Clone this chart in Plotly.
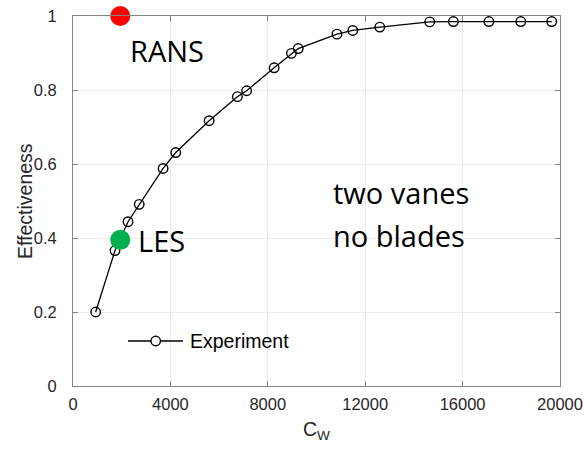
import plotly.graph_objects as go

# Measured effectiveness versus coolant flow parameter C_W
cw_exp = [930, 1725, 2260, 2720, 3700, 4220, 5590, 6750, 7130, 8260,
          8970, 9250, 10840, 11490, 12600, 14650, 15620, 17080, 18390, 19660]
eff_exp = [0.200, 0.366, 0.444, 0.491, 0.588, 0.631, 0.717, 0.782, 0.798, 0.860,
           0.899, 0.912, 0.951, 0.961, 0.970, 0.984, 0.985, 0.985, 0.985, 0.985]

# Simulation results at a single operating point
cw_rans, eff_rans = [1940], [1.0]
cw_les, eff_les = [1940], [0.395]

x_ticks = [0, 4000, 8000, 12000, 16000, 20000]
y_ticks = [0, 0.2, 0.4, 0.6, 0.8, 1.0]
y_tick_text = ["0", "0.2", "0.4", "0.6", "0.8", "1"]

sans = "Liberation Sans, Arial, sans-serif"
tick_font = dict(family=sans, size=16.5, color="#262626")
title_font = dict(family=sans, size=19.5, color="#262626")
big_font = dict(family="Open Sans, sans-serif", size=29, color="#000000")

fig = go.Figure()

fig.add_trace(go.Scatter(
    x=cw_exp, y=eff_exp, mode="lines+markers", name="Experiment", showlegend=False,
    line=dict(color="#000000", width=1.3),
    marker=dict(symbol="circle-open", size=9.5, color="#000000", line=dict(width=1.4)),
    cliponaxis=False,
))
fig.add_trace(go.Scatter(
    x=cw_rans, y=eff_rans, mode="markers", name="RANS", showlegend=False,
    marker=dict(size=20, color="#ff0000"), cliponaxis=False,
))
fig.add_trace(go.Scatter(
    x=cw_les, y=eff_les, mode="markers", name="LES", showlegend=False,
    marker=dict(size=20, color="#00b050"), cliponaxis=False,
))

annotations = [
    dict(x=2340, y=0.907, text="RANS", xanchor="left", yanchor="middle"),
    dict(x=2670, y=0.393, text="LES", xanchor="left", yanchor="middle"),
    dict(x=10680, y=0.523, text="two vanes", xanchor="left", yanchor="middle"),
    dict(x=10680, y=0.407, text="no blades", xanchor="left", yanchor="middle"),
]
for a in annotations:
    a.update(xref="x", yref="y", showarrow=False, font=big_font, xshift=-2)

# Legend entry for the experiment series, drawn with a long sample line
leg_y = 0.1216
leg_x0, leg_x1, leg_xm = 0.1129, 0.2259, 0.1698
shapes = [
    dict(type="line", xref="x domain", yref="y domain",
         x0=leg_x0, x1=leg_x1, y0=leg_y, y1=leg_y,
         line=dict(color="#000000", width=1.3)),
    dict(type="circle", xref="x domain", yref="y domain",
         xsizemode="pixel", ysizemode="pixel",
         xanchor=leg_xm, yanchor=leg_y, x0=-4.75, x1=4.75, y0=-4.75, y1=4.75,
         line=dict(color="#000000", width=1.4), fillcolor="#ffffff"),
]
annotations.append(dict(
    xref="x domain", yref="y domain", x=0.236, y=leg_y,
    text="Experiment", showarrow=False, xanchor="left", yanchor="middle",
    font=dict(family=sans, size=19.5, color="#000000"),
))

# Axis titles
annotations.append(dict(
    xref="x domain", yref="y domain", x=0.5, y=0, yshift=-30,
    text="C<sub>W</sub>", showarrow=False, xanchor="center", yanchor="top",
    font=title_font,
))
annotations.append(dict(
    xref="x domain", yref="y domain", x=0, y=0.5, xshift=-48,
    text="Effectiveness", showarrow=False, xanchor="center", yanchor="middle",
    textangle=-90, font=title_font,
))

axis_common = dict(
    showline=True, linecolor="#858585", linewidth=1, mirror="ticks",
    ticks="inside", ticklen=5, tickcolor="#858585", tickwidth=1,
    showgrid=True, gridcolor="#ececec", gridwidth=1,
    zeroline=False, tickfont=tick_font, automargin=False,
    ticklabeloverflow="allow",
)

fig.update_layout(
    width=584, height=449,
    margin=dict(l=73, r=24, t=16, b=63),
    paper_bgcolor="#ffffff", plot_bgcolor="#ffffff",
    annotations=annotations, shapes=shapes,
    xaxis=dict(range=[0, 20000], tickvals=x_ticks, ticktext=[str(v) for v in x_ticks],
               ticklabelstandoff=3, **axis_common),
    yaxis=dict(range=[0, 1], tickvals=y_ticks, ticktext=y_tick_text,
               ticklabelstandoff=12, **axis_common),
    showlegend=False,
)

fig.write_html("out.html")
